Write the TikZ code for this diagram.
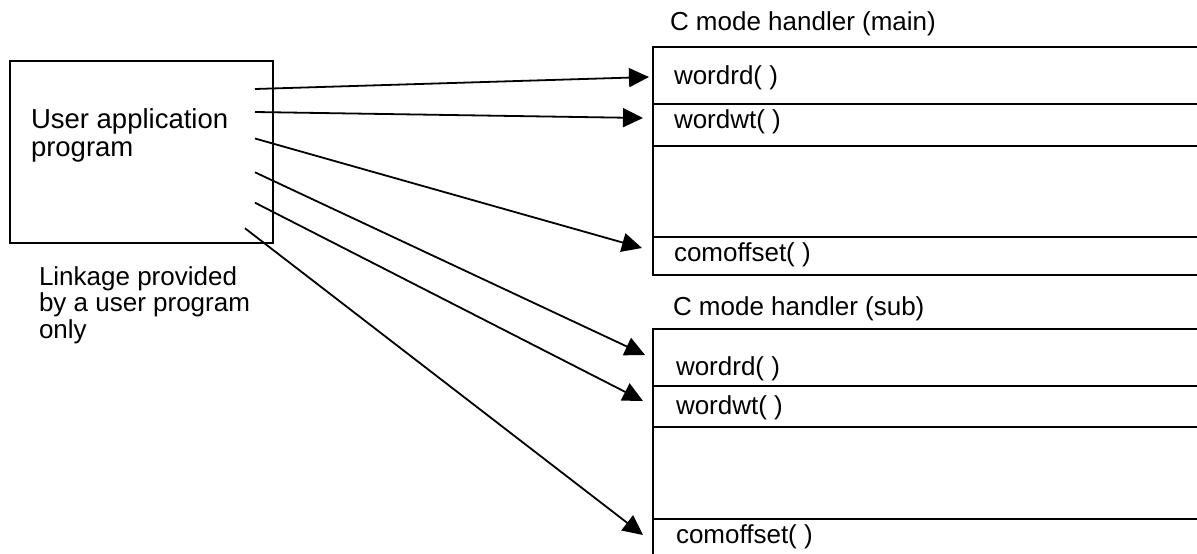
\documentclass[tikz,border=0pt]{standalone}
\usepackage{fontspec}
\setmainfont{Liberation Sans}
\usetikzlibrary{arrows.meta}
\begin{document}
\begin{tikzpicture}[x=1pt,y=-1pt,line width=2pt,
  lbl/.style={anchor=base west,inner sep=0pt,font=\fontsize{26}{30}\selectfont},
  biglbl/.style={anchor=base west,inner sep=0pt,font=\fontsize{27.5}{30}\selectfont},
  conn/.style={-{Triangle[length=20pt,width=19pt]},line width=1.8pt,shorten >=0pt}]
\useasboundingbox (0,0) rectangle (1197,554);

% user application box
\node[draw,line width=2pt,minimum width=263pt,minimum height=182pt,
      anchor=north west,inner sep=0pt] (uap) at (8.5,60) {};
\node[biglbl] (uapA) at (30,128) {User application};
\node[biglbl] (uapB) at (30,156) {program};

\node[lbl] (lkA) at (38,285) {Linkage provided};
\node[lbl] (lkB) at (38,311.5) {by a user program};
\node[lbl] (lkC) at (38,338) {only};

% main handler
\node[lbl] (mainT) at (669,30) {C mode handler (main)};
\draw (1197,47) -- (653,47) -- (653,275) -- (1197,275);
\draw (653,104) -- (1197,104);
\draw (653,146) -- (1197,146);
\draw (653,237) -- (1197,237);
\node[lbl] (mRd) at (673,84) {wordrd( )};
\node[lbl] (mWt) at (673,128) {wordwt( )};
\node[lbl] (mCo) at (673,261) {comoffset( )};

% sub handler
\node[lbl] (subT) at (672,315) {C mode handler (sub)};
\draw (1197,329) -- (653,329) -- (653,554);
\draw (653,386) -- (1197,386);
\draw (653,427) -- (1197,427);
\draw (653,519) -- (1197,519);
\node[lbl] (sRd) at (675,375) {wordrd( )};
\node[lbl] (sWt) at (675,414) {wordwt( )};
\node[lbl] (sCo) at (675,543) {comoffset( )};

% connector end points
\coordinate (s1) at (255,89);
\coordinate (s2) at (255,112);
\coordinate (s3) at (255,138.5);
\coordinate (s4) at (255,172.3);
\coordinate (s5) at (255,202.7);
\coordinate (s6) at (245,228.3);
\coordinate (e1) at (649,77);
\coordinate (e2) at (643,118);
\coordinate (e3) at (642,248);
\coordinate (e4) at (645,355);
\coordinate (e5) at (643,401);
\coordinate (e6) at (643,535);

\draw[conn] (s1) -- (e1);
\draw[conn] (s2) -- (e2);
\draw[conn] (s3) -- (e3);
\draw[conn] (s4) -- (e4);
\draw[conn] (s5) -- (e5);
\draw[conn] (s6) -- (e6);
\end{tikzpicture}
\end{document}
